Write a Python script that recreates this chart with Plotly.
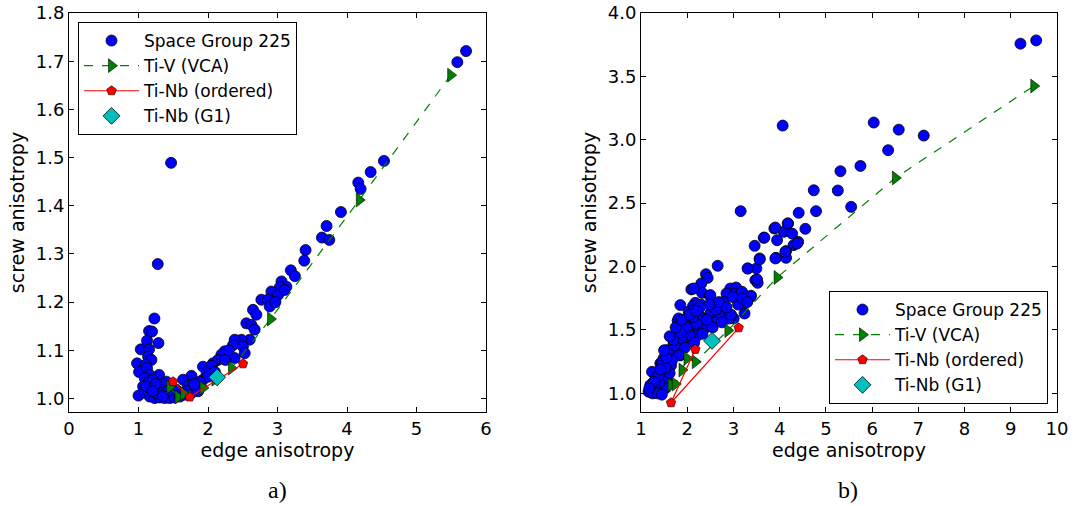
import plotly.graph_objects as go

# ---------------- panel a) data ----------------
sg_a_x = [5.713, 5.588, 4.532, 4.340, 4.162, 4.196, 3.913, 3.706, 3.639, 3.745, 3.404, 3.385,
          3.192, 3.250, 3.058, 3.128, 3.034, 2.912, 3.008, 2.768, 2.863, 2.888, 2.970, 3.100,
          2.648, 2.696, 2.552, 2.624, 2.672, 2.600, 2.480, 2.384, 2.360, 2.503, 2.240, 2.193,
          2.528, 2.144, 2.384, 2.072, 1.928, 2.050, 1.980, 1.930, 1.762, 1.642, 1.714, 1.834,
          1.546, 1.762, 1.858, 2.000, 2.100, 2.250, 2.300, 1.880, 1.680, 1.600, 1.800,
          1.469, 1.277, 1.229, 1.152, 1.195, 1.123, 1.287, 1.032, 1.152, 1.138, 1.186, 0.979,
          1.104, 1.008, 1.123, 1.162, 1.296, 1.090, 1.138, 1.210, 1.066, 1.186, 1.306, 1.402,
          1.000, 1.090, 1.162, 1.234, 1.306, 1.378, 1.450, 1.520, 1.594, 1.258, 1.354, 1.426,
          1.666, 1.110, 1.250, 1.200, 1.350]
sg_a_y = [1.721, 1.698, 1.493, 1.470, 1.448, 1.435, 1.387, 1.358, 1.334, 1.329, 1.308, 1.286,
          1.266, 1.254, 1.243, 1.232, 1.231, 1.222, 1.215, 1.205, 1.205, 1.191, 1.200, 1.225,
          1.184, 1.174, 1.156, 1.153, 1.143, 1.122, 1.122, 1.122, 1.111, 1.108, 1.098, 1.091,
          1.094, 1.080, 1.084, 1.073, 1.066, 1.068, 1.053, 1.039, 1.047, 1.039, 1.026, 1.021,
          1.018, 1.011, 1.015, 1.045, 1.055, 1.080, 1.100, 1.035, 1.015, 1.008, 1.030,
          1.489, 1.279, 1.166, 1.140, 1.139, 1.120, 1.115, 1.102, 1.102, 1.087, 1.080, 1.073,
          1.070, 1.055, 1.063, 1.049, 1.049, 1.042, 1.032, 1.039, 1.025, 1.021, 1.025, 1.035,
          1.006, 1.012, 1.004, 1.001, 1.002, 1.001, 1.001, 1.002, 1.004, 1.011, 1.012, 1.016,
          1.008, 1.025, 1.030, 1.015, 1.005]

tiv_a_x = [1.449, 1.568, 1.650, 1.928, 2.100, 2.337, 2.900, 4.177, 5.492]
tiv_a_y = [1.024, 1.003, 1.010, 1.022, 1.040, 1.063, 1.165, 1.412, 1.671]

tinb_a_x = [1.497, 1.737, 2.504]
tinb_a_y = [1.035, 1.003, 1.072]

g1_a_x = [2.131]
g1_a_y = [1.044]

# ---------------- panel b) data ----------------
sg_b_x = [9.21, 9.55, 4.065, 6.035, 6.576, 7.117, 6.347, 5.748, 5.315, 4.738, 5.258, 5.547,
          3.156, 4.412, 4.787, 3.885, 4.181, 4.556, 4.09, 3.655, 3.944, 4.27, 4.40, 4.30,
          3.459, 3.921, 4.138, 4.138, 3.568, 3.31, 3.496, 3.474, 3.524, 2.659, 2.406, 2.442,
          2.305, 2.32, 2.486, 2.089, 1.851, 2.175, 2.125, 2.933, 3.056, 2.85, 2.777, 3.042,
          3.15, 3.11, 3.38, 3.24, 2.27, 2.03, 2.645, 2.72, 2.486, 1.793, 1.793, 2.067, 3.005,
          2.39, 2.139, 2.5, 3.078, 2.139, 2.5, 2.788, 1.814, 2.284, 2.067, 2.429, 2.645, 1.779,
          1.996, 2.247, 1.742, 1.922, 1.706, 1.563, 1.779, 1.996, 1.489, 1.671, 1.418, 1.597,
          1.238, 1.455, 1.31, 1.563, 1.201, 1.381, 1.273, 1.418, 1.164, 1.526, 1.455,
          3.669, 3.907, 4.173, 4.377, 3.567, 3.307, 3.511, 3.907, 4.123, 3.186, 3.366, 3.221,
          2.68, 1.35, 1.5, 1.65, 1.85, 2.2, 2.35, 1.9, 1.62, 1.4, 1.30, 1.25, 1.35, 1.45, 2.6,
          2.9, 1.7, 2.0, 2.3,
          2.55, 2.75, 2.95, 2.85, 3.1, 2.62, 2.42, 2.2, 2.05, 1.88, 1.72, 1.58, 1.45, 1.32,
          2.33, 2.15, 1.95, 1.82, 1.67, 1.53, 1.38, 1.25, 2.98, 2.68, 2.48, 2.28, 2.12, 1.98,
          1.85, 1.7, 1.55, 1.42, 1.28, 1.18, 1.5, 1.62, 1.75, 1.88, 2.05, 2.2, 3.2, 3.3]
sg_b_y = [3.758, 3.784, 3.112, 3.136, 3.080, 3.033, 2.918, 2.794, 2.752, 2.602, 2.600, 2.471,
          2.437, 2.424, 2.437, 2.300, 2.340, 2.298, 2.274, 2.227, 2.208, 2.26, 2.195, 2.169,
          2.164, 2.069, 2.122, 2.069, 2.064, 1.985, 1.985, 1.893, 1.872, 2.006, 1.940, 1.911,
          1.867, 1.793, 1.770, 1.820, 1.696, 1.714, 1.688, 1.827, 1.835, 1.788, 1.720, 1.788,
          1.788, 1.722, 1.770, 1.630, 1.607, 1.644, 1.630, 1.649, 1.615, 1.573, 1.512, 1.499,
          1.591, 1.578, 1.827, 1.775, 1.761, 1.656, 1.630, 1.630, 1.591, 1.604, 1.564, 1.552,
          1.578, 1.512, 1.499, 1.499, 1.433, 1.433, 1.394, 1.341, 1.341, 1.407, 1.276, 1.276,
          1.236, 1.210, 1.170, 1.158, 1.105, 1.105, 1.065, 1.052, 1.026, 1.013, 1.013, 1.039,
          1.249, 2.229, 2.308, 2.340, 2.182, 2.056, 1.985, 1.898, 2.064, 2.116, 1.801, 1.761,
          1.709, 1.617, 1.12, 1.18, 1.22, 1.30, 1.45, 1.50, 1.36, 1.16, 1.08, 1.05, 1.00, 1.00,
          0.99, 1.56, 1.59, 1.45, 1.55, 1.70,
          1.52, 1.56, 1.62, 1.68, 1.70, 1.66, 1.58, 1.55, 1.46, 1.43, 1.38, 1.32, 1.22, 1.12,
          1.47, 1.40, 1.36, 1.30, 1.26, 1.20, 1.14, 1.08, 1.76, 1.72, 1.70, 1.68, 1.60, 1.52,
          1.48, 1.42, 1.28, 1.19, 1.09, 1.04, 1.34, 1.45, 1.52, 1.58, 1.62, 1.65, 1.75, 1.72]

tiv_b_x = [1.650, 1.742, 1.887, 1.995, 2.175, 2.880, 3.944, 6.504, 9.498]
tiv_b_y = [1.065, 1.073, 1.184, 1.276, 1.249, 1.496, 1.914, 2.699, 3.424]

tinb_b_x = [2.175, 1.649, 3.113]
tinb_b_y = [1.347, 0.926, 1.517]

g1_b_x = [2.537]
g1_b_y = [1.414]

# ---------------- styles ----------------
FONT = "DejaVu Sans"
BLUE = "#0000ff"
GREEN = "#008000"
RED = "#ff0000"
CYAN = "#00bfbf"

fig = go.Figure()


def add_panel(xa, ya, legend, sgx, sgy, tvx, tvy, tnx, tny, gx, gy):
    fig.add_trace(go.Scatter(
        x=sgx, y=sgy, mode="markers", name="Space Group 225",
        xaxis=xa, yaxis=ya, legend=legend,
        marker=dict(symbol="circle", size=11, color=BLUE,
                    line=dict(color="black", width=0.8))))
    fig.add_trace(go.Scatter(
        x=tvx, y=tvy, mode="lines+markers", name="Ti-V (VCA)",
        xaxis=xa, yaxis=ya, legend=legend,
        line=dict(color=GREEN, width=1.2, dash="dash"),
        marker=dict(symbol="triangle-right", size=12, color=GREEN,
                    line=dict(color="black", width=0.6))))
    fig.add_trace(go.Scatter(
        x=tnx, y=tny, mode="lines+markers", name="Ti-Nb (ordered)",
        xaxis=xa, yaxis=ya, legend=legend,
        line=dict(color=RED, width=1.2),
        marker=dict(symbol="pentagon", size=10, color=RED,
                    line=dict(color="black", width=0.6))))
    fig.add_trace(go.Scatter(
        x=gx, y=gy, mode="markers", name="Ti-Nb (G1)",
        xaxis=xa, yaxis=ya, legend=legend,
        marker=dict(symbol="diamond", size=13, color=CYAN,
                    line=dict(color="black", width=0.8))))


add_panel("x", "y", "legend", sg_a_x, sg_a_y, tiv_a_x, tiv_a_y,
          tinb_a_x, tinb_a_y, g1_a_x, g1_a_y)
add_panel("x2", "y2", "legend2", sg_b_x, sg_b_y, tiv_b_x, tiv_b_y,
          tinb_b_x, tinb_b_y, g1_b_x, g1_b_y)

W, H = 1077, 506
ytop, ybot = 13, 412
ydom = [1 - ybot / H, 1 - ytop / H]

axis_common = dict(showgrid=False, zeroline=False, showline=True, linecolor="black",
                   linewidth=1, mirror="allticks", ticks="inside", ticklen=5,
                   tickcolor="black", tickfont=dict(family=FONT, size=18, color="black"),
                   automargin=False)

title_font = dict(family=FONT, size=19, color="black")

legend_common = dict(bgcolor="white", bordercolor="black", borderwidth=1,
                     font=dict(family=FONT, size=17, color="black"),
                     xanchor="left", yanchor="top", tracegroupgap=0, itemwidth=55)

fig.update_layout(
    width=W, height=H,
    margin=dict(l=0, r=0, t=0, b=0),
    paper_bgcolor="white", plot_bgcolor="white",
    xaxis=dict(domain=[69 / W, 486 / W], range=[0, 6], dtick=1, tick0=0,
               title=dict(text="edge anisotropy", standoff=4, font=title_font),
               **axis_common),
    yaxis=dict(domain=ydom, range=[0.972, 1.8], tickvals=[1.0, 1.1, 1.2, 1.3, 1.4, 1.5, 1.6, 1.7, 1.8],
               ticktext=["1.0", "1.1", "1.2", "1.3", "1.4", "1.5", "1.6", "1.7", "1.8"],
               title=dict(text="screw anisotropy", standoff=6, font=title_font),
               **axis_common),
    xaxis2=dict(domain=[641 / W, 1057 / W], range=[1, 10], dtick=1, tick0=0, anchor="y2",
                title=dict(text="edge anisotropy", standoff=4, font=title_font),
                **axis_common),
    yaxis2=dict(domain=ydom, range=[0.853, 4.0], anchor="x2",
                tickvals=[1.0, 1.5, 2.0, 2.5, 3.0, 3.5, 4.0],
                ticktext=["1.0", "1.5", "2.0", "2.5", "3.0", "3.5", "4.0"],
                title=dict(text="screw anisotropy", standoff=6, font=title_font),
                **axis_common),
    legend=dict(x=78 / W, y=1 - 22 / H, **legend_common),
    legend2=dict(x=829 / W, y=1 - 291 / H, **legend_common),
    showlegend=True,
    annotations=[
        dict(text="a)", x=277 / W, y=1 - 490 / H, xref="paper", yref="paper",
             xanchor="center", yanchor="middle", showarrow=False,
             font=dict(family="Liberation Serif", size=24, color="black")),
        dict(text="b)", x=848 / W, y=1 - 490 / H, xref="paper", yref="paper",
             xanchor="center", yanchor="middle", showarrow=False,
             font=dict(family="Liberation Serif", size=24, color="black")),
    ],
)

fig.write_html("out.html")
